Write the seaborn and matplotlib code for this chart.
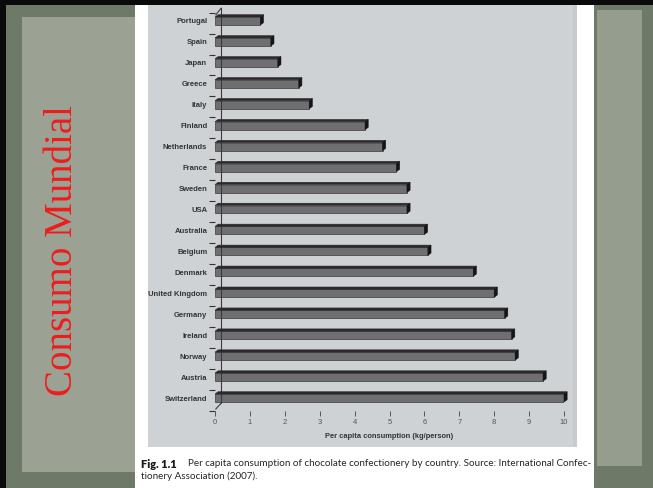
import matplotlib
matplotlib.use("Agg")
import matplotlib.pyplot as plt
from matplotlib.patches import Rectangle, Polygon
import seaborn as sns
import pandas as pd

# Per capita chocolate confectionery consumption (kg/person), ICA 2007
countries = ["Portugal", "Spain", "Japan", "Greece", "Italy", "Finland",
             "Netherlands", "France", "Sweden", "USA", "Australia", "Belgium",
             "Denmark", "United Kingdom", "Germany", "Ireland", "Norway",
             "Austria", "Switzerland"]
consumption = [1.3, 1.6, 1.8, 2.4, 2.7, 4.3, 4.8, 5.2, 5.5, 5.5, 6.0, 6.1,
               7.4, 8.0, 8.3, 8.5, 8.6, 9.4, 10.0]
x_ticks = list(range(0, 11))

slide_title = "Consumo Mundial"
caption_head = "Fig. 1.1"
caption_line1 = "Per capita consumption of chocolate confectionery by country. Source: International Confec-"
caption_line2 = "tionery Association (2007)."
x_label = "Per capita consumption (kg/person)"

sns.set_theme(style="white")
plt.rcParams['font.family'] = ['Liberation Sans', 'DejaVu Sans']

W, H = 653, 488
fig = plt.figure(figsize=(W / 100, H / 100), dpi=100)
fig.patch.set_facecolor('#6f7967')


def px_rect(x0, y0, x1, y1, color, z):
    fig.add_artist(Rectangle((x0 / W, 1 - y1 / H), (x1 - x0) / W, (y1 - y0) / H,
                             transform=fig.transFigure, facecolor=color,
                             edgecolor='none', zorder=z))


# slide background: dark frame, lighter paper strips, black top/left rule
px_rect(22, 17, 140, 472, '#9ba294', -20)
px_rect(597, 10, 642, 466, '#959d8f', -20)
px_rect(0, 0, W, 5, '#0a0a0a', -15)
px_rect(0, 0, 6, H, '#0a0a0a', -15)
# white page and grey chart panel
px_rect(135, 5, 594, H, '#ffffff', -12)
px_rect(148, 5, 576, 447, '#cfd2d5', -11)
px_rect(573, 5, 577, 447, '#c9cacb', -11)

fig.text(63 / W, 1 - 251 / H, slide_title, rotation=90, fontsize=28,
         family=['Liberation Serif', 'DejaVu Serif'], color='#ee1c1c',
         ha='center', va='center')

# chart axes: x = 0 at px 215, x = 10 at px 564
ax = fig.add_axes([215 / W, 1 - 411 / H, 349 / W, 403 / H])
ax.set_facecolor('none')

df = pd.DataFrame({"country": countries, "kg": consumption})
sns.barplot(data=df, x="kg", y="country", orient="h", color="#6f6f71",
            saturation=1, width=0.38, edgecolor="#3a3a3a", linewidth=0.5, ax=ax)

n = len(countries)
ax.set_xlim(0, 10)
ax.set_ylim(n - 0.38, -0.62)

# 3D top and side faces on each bar
dx, dy = 0.09, 0.11
for p in list(ax.patches):
    x0, y0, w, h = p.get_x(), p.get_y(), p.get_width(), p.get_height()
    top = Polygon([(x0, y0), (x0 + dx, y0 - dy), (x0 + w + dx, y0 - dy), (x0 + w, y0)],
                  closed=True, facecolor='#2a2a2c', edgecolor='#2a2a2c',
                  linewidth=0.4, clip_on=False, zorder=3)
    side = Polygon([(x0 + w, y0), (x0 + w + dx, y0 - dy), (x0 + w + dx, y0 + h - dy),
                    (x0 + w, y0 + h)], closed=True, facecolor='#151517',
                   edgecolor='#151517', linewidth=0.4, clip_on=False, zorder=3)
    ax.add_patch(top)
    ax.add_patch(side)

# back wall of the category axis
wx = 0.18
wall_top, wall_bot = -0.62, n - 0.76
ax.plot([wx, wx], [wall_top, wall_bot], color='#3a3a3a', lw=0.8, clip_on=False, zorder=1)
ax.plot([0.02, wx], [wall_top + 0.33, wall_top], color='#3a3a3a', lw=0.8, clip_on=False, zorder=1)
ax.plot([0.02, wx], [wall_bot + 0.29, wall_bot], color='#3a3a3a', lw=0.8, clip_on=False, zorder=1)

for s in ax.spines.values():
    s.set_visible(False)

ax.set_yticks(range(n))
ax.set_yticklabels(countries)
ax.set_yticks([k - 0.4 for k in range(n + 1)], minor=True)
ax.tick_params(axis='y', which='major', length=0, pad=5.5, labelsize=5.5,
               labelcolor='#333333')
ax.tick_params(axis='y', which='minor', left=True, length=4.5, width=0.8,
               color='#333333', direction='out')
for t in ax.get_yticklabels():
    t.set_fontweight('bold')

ax.set_xticks(x_ticks)
ax.set_xticklabels([str(v) for v in x_ticks])
ax.tick_params(axis='x', which='major', bottom=True, length=3.5, width=0.7,
               color='#555555', direction='out', pad=2, labelsize=5.5,
               labelcolor='#555555')
ax.set_xlabel(x_label, fontsize=5.4, fontweight='bold', color='#333333', labelpad=5)
ax.set_ylabel("")

# figure caption
cap_font = ['Lato', 'DejaVu Sans']
fig.text(141 / W, 1 - 464 / H, caption_head, fontsize=7.9, fontweight='heavy',
         family=cap_font, color='#1a1a1a', ha='left', va='center')
fig.text(188 / W, 1 - 464 / H, caption_line1, fontsize=7.15, family=cap_font,
         color='#262626', ha='left', va='center')
fig.text(141 / W, 1 - 476 / H, caption_line2, fontsize=7.15, family=cap_font,
         color='#262626', ha='left', va='center')

fig.savefig("out.png", dpi=100, facecolor=fig.get_facecolor())
